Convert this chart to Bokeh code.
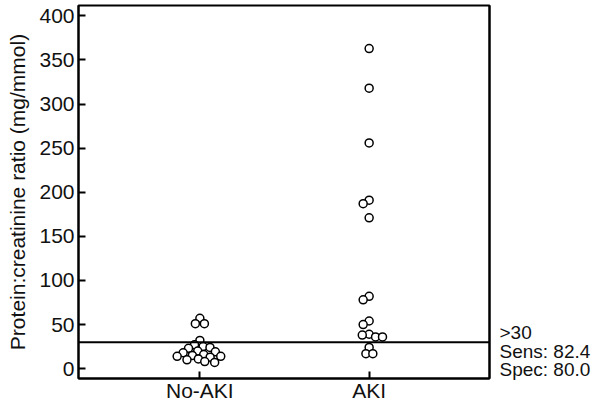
import math
from bokeh.plotting import figure
from bokeh.models import FixedTicker, Span, Range1d, ColumnDataSource, LinearAxis
from bokeh.embed import file_html
from bokeh.resources import INLINE

# ---- data ----
categories = ["No-AKI", "AKI"]
no_aki = [57, 51, 51, 32, 27, 25, 24, 23, 20, 19, 18, 16, 15, 14, 14, 13, 11, 10, 8, 7]
aki = [363, 318, 256, 191, 187, 171, 82, 78, 54, 50, 39, 38, 36, 36, 24, 17, 17]
threshold = 30
y_ticks = [0, 50, 100, 150, 200, 250, 300, 350, 400]
note_lines = [">30", "Sens: 82.4", "Spec: 80.0"]

FONT = "Liberation Sans"
W, H = 593, 404
BL, BR, BT, BB = 78, 100, 5, 25
x0, x1 = -0.717, 1.711
y0, y1 = -11.2, 411.8

p = figure(width=W, height=H, output_backend="svg", toolbar_location=None,
           x_range=Range1d(x0, x1), y_range=Range1d(y0, y1),
           min_border_left=BL, min_border_right=BR, min_border_top=BT, min_border_bottom=BB)
p.xgrid.visible = False
p.ygrid.visible = False
p.outline_line_color = "black"
p.outline_line_width = 2
p.outline_line_alpha = 1

px_x = (W - BL - BR) / (x1 - x0)
px_y = (H - BT - BB) / (y1 - y0)

def swarm(vals, d=7.0):
    placed = []
    offs = []
    for v in vals:
        y = v * px_y
        cands = [0.0]
        for (xp, yp) in placed:
            dy = abs(y - yp)
            if dy < d:
                dx = math.sqrt(d * d - dy * dy)
                cands += [xp + dx, xp - dx]
        cands.sort(key=lambda c: (abs(c), c))
        for c in cands:
            if all((c - xp) ** 2 + (y - yp) ** 2 >= d * d - 1e-6 for (xp, yp) in placed):
                placed.append((c, y))
                offs.append(c / px_x)
                break
    return offs

xs, ys = [], []
for i, vals in enumerate([no_aki, aki]):
    offs = swarm(vals)
    xs += [i + o for o in offs]
    ys += vals

p.add_layout(Span(location=threshold, dimension="width", line_color="black", line_width=2))

src = ColumnDataSource(dict(x=xs, y=ys))
p.scatter("x", "y", source=src, size=8, fill_color="white", line_color="black", line_width=1.5)

for ax in (p.xaxis[0], p.yaxis[0]):
    ax.axis_line_width = 2
    ax.major_tick_line_width = 2
    ax.major_tick_in = 7
    ax.major_tick_out = 0
    ax.minor_tick_line_color = None
    ax.major_label_text_font = FONT
    ax.major_label_text_font_size = "21px"
    ax.major_label_text_color = "#111111"

p.xaxis.ticker = FixedTicker(ticks=list(range(len(categories))))
p.xaxis.major_label_overrides = {i: c for i, c in enumerate(categories)}
p.xaxis.major_label_standoff = 0

p.yaxis.ticker = FixedTicker(ticks=y_ticks)
p.yaxis.major_label_standoff = 4
p.yaxis.axis_label = "Protein:creatinine ratio (mg/mmol)"
p.yaxis.axis_label_text_font = FONT
p.yaxis.axis_label_text_font_size = "21px"
p.yaxis.axis_label_text_font_style = "normal"
p.yaxis.axis_label_text_color = "#111111"
p.yaxis.axis_label_standoff = 7

# right-side annotation as a label-only axis
note_pos = [threshold + 11, threshold - 11, threshold - 31]
rax = LinearAxis(ticker=FixedTicker(ticks=note_pos),
                 major_label_overrides={pos: t for pos, t in zip(note_pos, note_lines)},
                 major_tick_line_color=None, minor_tick_line_color=None,
                 axis_line_width=2, major_label_standoff=4,
                 major_label_text_font=FONT, major_label_text_font_size="19px",
                 major_label_text_color="#111111")
p.add_layout(rax, "right")

open("out.html", "w").write(file_html(p, INLINE))
